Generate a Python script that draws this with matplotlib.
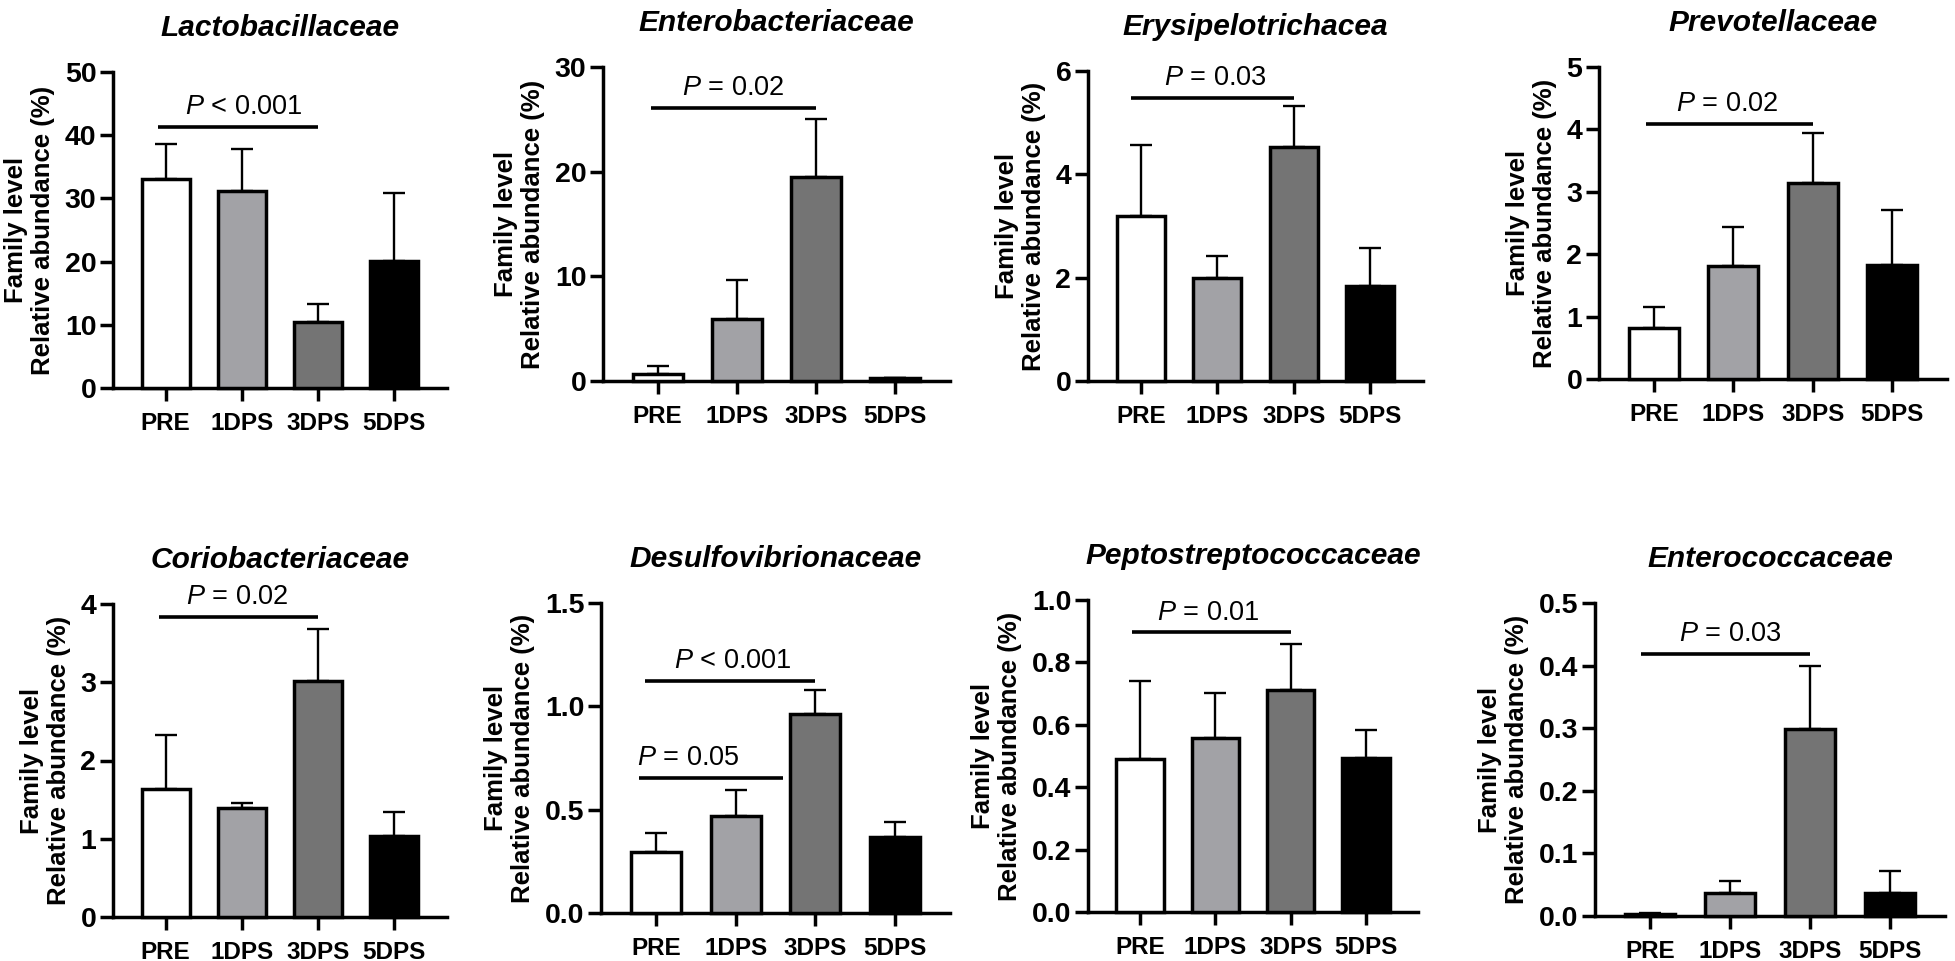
import matplotlib
matplotlib.use("Agg")
import matplotlib.pyplot as plt
import numpy as np

plt.rcParams['font.family'] = ['Liberation Sans', 'DejaVu Sans']
plt.rcParams['mathtext.fontset'] = 'custom'
plt.rcParams['mathtext.rm'] = 'Liberation Sans'
plt.rcParams['mathtext.it'] = 'Liberation Sans:italic'

groups = ['PRE', '1DPS', '3DPS', '5DPS']
bar_colors = ['white', '#a2a2a6', '#747474', 'black']

titles = ['Lactobacillaceae', 'Enterobacteriaceae', 'Erysipelotrichacea', 'Prevotellaceae',
          'Coriobacteriaceae', 'Desulfovibrionaceae', 'Peptostreptococcaceae', 'Enterococcaceae']

# mean and upper error (SEM) for each family
means = [
    [33.0, 31.1, 10.4, 20.1],
    [0.7, 5.9, 19.5, 0.25],
    [3.19, 2.0, 4.53, 1.84],
    [0.81, 1.81, 3.14, 1.83],
    [1.64, 1.39, 3.01, 1.03],
    [0.295, 0.468, 0.963, 0.368],
    [0.491, 0.557, 0.712, 0.495],
    [0.003, 0.036, 0.299, 0.037],
]
errs = [
    [5.6, 6.7, 2.9, 10.8],
    [0.75, 3.75, 5.5, 0.0],
    [1.38, 0.42, 0.8, 0.74],
    [0.34, 0.62, 0.81, 0.88],
    [0.68, 0.07, 0.67, 0.31],
    [0.092, 0.126, 0.117, 0.071],
    [0.248, 0.144, 0.147, 0.089],
    [0.001, 0.020, 0.101, 0.035],
]
ymax = [50, 30, 6, 5, 4, 1.5, 1.0, 0.5]
ystep = [10, 10, 2, 1, 1, 0.5, 0.2, 0.1]
yfmt = ['{:.0f}'] * 5 + ['{:.1f}'] * 3

# significance annotations: (panel, x start, x end, y, label, label x)
sig = [
    (0, -0.1, 2.0, 41.3, '$P$ < 0.001', 1.03),
    (1, -0.09, 2.0, 26.1, '$P$ = 0.02', 0.95),
    (2, -0.13, 2.0, 5.48, '$P$ = 0.03', 0.97),
    (3, -0.1, 2.0, 4.09, '$P$ = 0.02', 0.93),
    (4, -0.09, 2.0, 3.83, '$P$ = 0.02', 0.94),
    (5, -0.14, 2.0, 1.121, '$P$ < 0.001', 0.97),
    (5, -0.21, 1.6, 0.653, '$P$ = 0.05', 0.41),
    (6, -0.1, 2.0, 0.896, '$P$ = 0.01', 0.9),
    (7, -0.12, 2.0, 0.418, '$P$ = 0.03', 1.0),
]

W, H = 1955, 961
# axes boxes in pixels: left, top, right, bottom
boxes = [
    (113, 72, 447, 388), (603, 67, 950, 381), (1088, 71, 1423, 381), (1599, 67, 1947, 379),
    (113, 604, 447, 917), (601, 603, 950, 913), (1088, 600, 1418, 912), (1595, 603, 1945, 916),
]

fig = plt.figure(figsize=(W / 100, H / 100), dpi=100)
axes = []
x = np.arange(len(groups))
for i in range(8):
    l, t, r, b = boxes[i]
    ax = fig.add_axes([l / W, 1 - b / H, (r - l) / W, (b - t) / H])
    axes.append(ax)
    m = np.array(means[i])
    e = np.array(errs[i])
    ax.errorbar(x, m, yerr=[np.zeros_like(e), e], fmt='none', ecolor='black',
                elinewidth=1.7, capsize=8, capthick=1.7, zorder=2, clip_on=False)
    ax.bar(x, m, width=0.63, color=bar_colors, edgecolor='black', linewidth=2.5,
           zorder=3, clip_on=False)
    ax.set_xlim(-0.69, 3.69)
    ax.set_ylim(0, ymax[i])
    ticks = np.arange(0, ymax[i] + ystep[i] / 2, ystep[i])
    ax.set_yticks(ticks)
    ax.set_yticklabels([yfmt[i].format(v) for v in ticks], fontsize=20.5, fontweight='bold')
    ax.set_xticks(x)
    ax.set_xticklabels(groups, fontsize=17.5, fontweight='bold')
    for s in ['top', 'right']:
        ax.spines[s].set_visible(False)
    for s in ['left', 'bottom']:
        ax.spines[s].set_linewidth(2.5)
    ax.tick_params(axis='both', width=2.5, length=9.5)
    ax.tick_params(axis='y', pad=2.5)
    ax.tick_params(axis='x', pad=8)
    ax.set_ylabel('Family level\nRelative abundance (%)', fontsize=18.5, fontweight='bold',
                  labelpad=7, linespacing=1.15)
    ax.set_title(titles[i], fontsize=21.5, fontweight='bold', fontstyle='italic', pad=26)

for p, x0, x1, y, label, lx in sig:
    ax = axes[p]
    ax.plot([x0, x1], [y, y], color='black', linewidth=2.6, solid_capstyle='butt', clip_on=False)
    ax.annotate(label, xy=(lx, y), xytext=(0, 5), textcoords='offset points',
                ha='center', va='bottom', fontsize=19.5)

fig.savefig('out.png', dpi=100, facecolor='white')
